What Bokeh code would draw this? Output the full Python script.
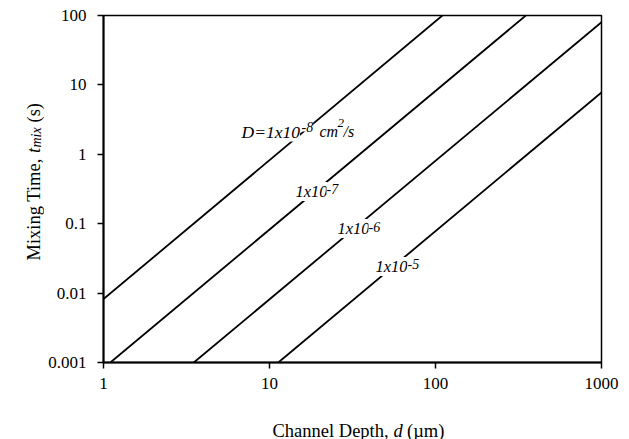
import math
from bokeh.plotting import figure
from bokeh.models import Label, FixedTicker, Range1d
from bokeh.layouts import column, row
from bokeh.embed import file_html
from bokeh.resources import INLINE

# ---- data ----
x_ticks = [1, 10, 100, 1000]
x_tick_labels = ["1", "10", "100", "1000"]
y_ticks = [0.001, 0.01, 0.1, 1, 10, 100]
y_tick_labels = ["0.001", "0.01", "0.1", "1", "10", "100"]

# one line per diffusion coefficient D (cm2/s): channel depth (um) vs mixing time (s)
diffusivity = ["1x10-8", "1x10-7", "1x10-6", "1x10-5"]
depth_start = [1.0, 1.1, 3.5, 11.3]
time_start = [0.0082, 0.001, 0.001, 0.001]
depth_end = [110, 350, 1000, 1000]
time_end = [100, 100, 80, 7.8]

label_main = ["D=1x10", "1x10", "1x10", "1x10"]
label_exp = ["-8", "-7", "-6", "-5"]

x_title = ["Channel Depth,", "d", "(\u00b5m)"]
y_title = ["Mixing Time,", "t", "mix", "(s)"]

FONT = "Liberation Serif"
W, H = 629, 439
LEFT_W = 44                    # strip holding the y title
FR_L, FR_T, FR_W, FR_H = 103, 15, 498, 347
FR_B = FR_T + FR_H             # 362
BOTTOM_H = 36                  # strip holding the x title
MAIN_H = H - BOTTOM_H


def no_frame_align(f):
    if "frame_align" in f.properties():
        f.frame_align = False


# ---- main plot ----
p = figure(x_axis_type="log", y_axis_type="log",
           x_range=(1, 1000), y_range=(0.001, 100),
           frame_width=FR_W, frame_height=FR_H,
           output_backend="svg", toolbar_location=None)
p.min_border_left = FR_L - LEFT_W
p.min_border_right = W - FR_L - FR_W
p.min_border_top = FR_T
p.min_border_bottom = MAIN_H - FR_B
p.background_fill_color = "white"
p.border_fill_color = "white"
p.outline_line_color = "black"
p.outline_line_width = 1.5
p.xgrid.grid_line_color = None
p.ygrid.grid_line_color = None
no_frame_align(p)

for ax, ticks, labels in ((p.xaxis[0], x_ticks, x_tick_labels), (p.yaxis[0], y_ticks, y_tick_labels)):
    ax.ticker = FixedTicker(ticks=ticks)
    ax.major_label_overrides = {t: l for t, l in zip(ticks, labels)}
    ax.axis_line_width = 2
    ax.axis_line_color = "black"
    ax.major_tick_line_width = 1.5
    ax.major_tick_out = 6
    ax.major_tick_in = 0
    ax.minor_tick_line_color = None
    ax.major_label_text_font = FONT
    ax.major_label_text_font_size = "17px"
    ax.major_label_text_color = "black"
p.xaxis.major_label_standoff = 9
p.yaxis.major_label_standoff = 11

for i in range(len(diffusivity)):
    p.line([depth_start[i], depth_end[i]], [time_start[i], time_end[i]],
           line_color="black", line_width=1.8)


def mk(text, x, y, size="16.5px", style="italic", angle=0.0, bg=True):
    return Label(x=x, y=y, x_units="screen", y_units="screen", text=text,
                 text_font=FONT, text_font_size=size, text_font_style=style,
                 text_color="black", text_align="left", text_baseline="alphabetic",
                 angle=angle, background_fill_color="white" if bg else None)


main_pos = [(138, 231), (192, 171), (234, 134), (272, 96)]
main_size = ["17.5px", "16.5px", "16.5px", "16.5px"]
exp_pos = [(198, 236), (223, 174), (265, 136), (304, 99)]
for i in range(len(label_main)):
    p.add_layout(mk(label_main[i], *main_pos[i], size=main_size[i]))
    p.add_layout(mk(label_exp[i], *exp_pos[i], size="14px"))
p.add_layout(mk("cm", 216, 231, size="16px"))
p.add_layout(mk("2", 234, 240, size="13px"))
p.add_layout(mk("/s", 240, 231, size="16px"))


def strip(fw, fh, bl, br, bt, bb):
    f = figure(frame_width=fw, frame_height=fh,
               x_range=Range1d(0, fw), y_range=Range1d(0, fh),
               x_axis_location=None, y_axis_location=None,
               output_backend="svg", toolbar_location=None)
    f.title.visible = False
    f.min_border_left, f.min_border_right = bl, br
    f.min_border_top, f.min_border_bottom = bt, bb
    f.outline_line_color = None
    f.xgrid.visible = False
    f.ygrid.visible = False
    f.background_fill_color = "white"
    f.border_fill_color = "white"
    no_frame_align(f)
    return f


# ---- y title strip (left): frame spans image rows FR_T..FR_B ----
left = strip(LEFT_W, FR_H, 0, 0, FR_T, H - FR_B)
r = math.pi / 2
y_base_x = [33, 33, 36, 33]            # image x of baseline
y_start = [260, 152.5, 147, 122]       # image y where each piece starts
y_sizes = ["18.5px", "18.5px", "14px", "18.5px"]
y_styles = ["normal", "italic", "italic", "normal"]
for t, bx, ys, sz, st in zip(y_title, y_base_x, y_start, y_sizes, y_styles):
    left.add_layout(mk(t, bx, FR_B - ys, size=sz, style=st, angle=r, bg=False))

# ---- x title strip (bottom): frame spans image columns FR_L..FR_L+FR_W ----
bottom = strip(FR_W, BOTTOM_H, FR_L - LEFT_W, W - FR_L - FR_W, 0, 0)
x_start = [272, 393, 406.5]            # image x where each piece starts
x_styles = ["normal", "italic", "normal"]
for t, xs, st in zip(x_title, x_start, x_styles):
    bottom.add_layout(mk(t, xs - FR_L, H - 430, size="18.5px", style=st, bg=False))

layout = row(left, column(p, bottom, spacing=0), spacing=0)
open("out.html", "w").write(file_html(layout, INLINE))
